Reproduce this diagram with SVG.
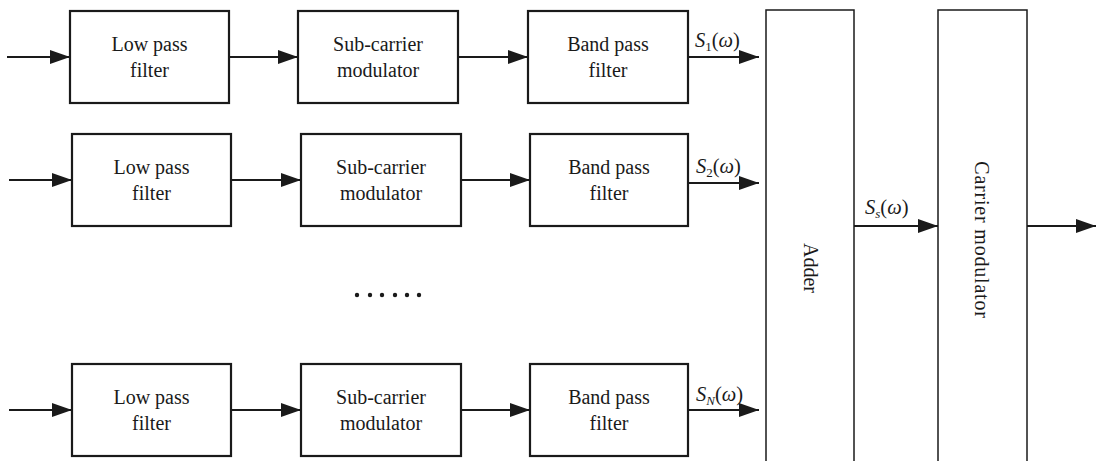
<svg xmlns="http://www.w3.org/2000/svg" width="1096" height="461" viewBox="0 0 1096 461">
<defs>
<style>
.box{fill:#fff;stroke:#1a1a1a;stroke-width:2.2}
.tall{fill:#fff;stroke:#1a1a1a;stroke-width:1.5}
.lbl{font-size:20px;fill:#1a1a1a;text-anchor:middle}
.sig{font-size:20.5px;fill:#1a1a1a}
.it{font-style:italic}
.sub{font-size:13px}
.wire{stroke:#1a1a1a;stroke-width:2.2;fill:none;marker-end:url(#ah)}
</style>
<marker id="ah" markerUnits="userSpaceOnUse" markerWidth="20" markerHeight="14" refX="20" refY="7" orient="auto">
<path d="M0,0 L20,7 L0,14 z" fill="#1a1a1a"/>
</marker>
</defs>
<rect width="1096" height="461" fill="#fff"/>

<g id="connectors">
<line class="wire" x1="7" y1="57" x2="70" y2="57"/>
<line class="wire" x1="229" y1="57" x2="298" y2="57"/>
<line class="wire" x1="458" y1="57" x2="528" y2="57"/>
<line class="wire" x1="688" y1="57" x2="759" y2="57"/>

<line class="wire" x1="9" y1="180" x2="72" y2="180"/>
<line class="wire" x1="231" y1="180" x2="301" y2="180"/>
<line class="wire" x1="461" y1="180" x2="530" y2="180"/>
<line class="wire" x1="688" y1="183" x2="759" y2="183"/>

<line class="wire" x1="9" y1="410" x2="72" y2="410"/>
<line class="wire" x1="231" y1="410" x2="301" y2="410"/>
<line class="wire" x1="461" y1="410" x2="530" y2="410"/>
<line class="wire" x1="688" y1="410" x2="759" y2="410"/>

<line class="wire" x1="854" y1="226" x2="938" y2="226"/>
<line class="wire" x1="1027" y1="226" x2="1096" y2="226"/>
</g>

<g font-family="'Liberation Serif', 'Times New Roman', 'DejaVu Serif', serif">
<g id="lpf1"><rect class="box" x="70" y="11" width="159" height="92"/><text class="lbl" x="149.5" y="51">Low pass</text><text class="lbl" x="149.5" y="77">filter</text></g>
<g id="scm1"><rect class="box" x="298" y="11" width="160" height="92"/><text class="lbl" x="378" y="51">Sub-carrier</text><text class="lbl" x="378" y="77">modulator</text></g>
<g id="bpf1"><rect class="box" x="528" y="11" width="160" height="92"/><text class="lbl" x="608" y="51">Band pass</text><text class="lbl" x="608" y="77">filter</text></g>

<g id="lpf2"><rect class="box" x="72" y="134" width="159" height="92"/><text class="lbl" x="151.5" y="174">Low pass</text><text class="lbl" x="151.5" y="200">filter</text></g>
<g id="scm2"><rect class="box" x="301" y="134" width="160" height="92"/><text class="lbl" x="381" y="174">Sub-carrier</text><text class="lbl" x="381" y="200">modulator</text></g>
<g id="bpf2"><rect class="box" x="530" y="134" width="158" height="92"/><text class="lbl" x="609" y="174">Band pass</text><text class="lbl" x="609" y="200">filter</text></g>

<g id="lpfN"><rect class="box" x="72" y="364" width="159" height="92"/><text class="lbl" x="151.5" y="404">Low pass</text><text class="lbl" x="151.5" y="430">filter</text></g>
<g id="scmN"><rect class="box" x="301" y="364" width="160" height="92"/><text class="lbl" x="381" y="404">Sub-carrier</text><text class="lbl" x="381" y="430">modulator</text></g>
<g id="bpfN"><rect class="box" x="530" y="364" width="158" height="92"/><text class="lbl" x="609" y="404">Band pass</text><text class="lbl" x="609" y="430">filter</text></g>

<g id="adder"><rect class="tall" x="766" y="10" width="88" height="470"/><text class="lbl" transform="translate(803.5,268) rotate(90)">Adder</text></g>
<g id="carrier"><rect class="tall" x="938" y="10" width="89" height="470"/><text class="lbl" font-size="22" letter-spacing="0.8" transform="translate(975,240) rotate(90)">Carrier modulator</text></g>

<g id="labels">
<text class="sig" x="695" y="47"><tspan class="it">S</tspan><tspan class="sub" dy="4">1</tspan><tspan dy="-4">(</tspan><tspan class="it">ω</tspan>)</text>
<text class="sig" x="696" y="173"><tspan class="it">S</tspan><tspan class="sub" dy="4">2</tspan><tspan dy="-4">(</tspan><tspan class="it">ω</tspan>)</text>
<text class="sig" x="696" y="401"><tspan class="it">S</tspan><tspan class="sub it" dy="4">N</tspan><tspan dy="-4">(</tspan><tspan class="it">ω</tspan>)</text>
<text class="sig" x="865" y="214"><tspan class="it">S</tspan><tspan class="sub it" dy="4">s</tspan><tspan dy="-4">(</tspan><tspan class="it">ω</tspan>)</text>
</g>
</g>

<g id="dots" fill="#1a1a1a">
<circle cx="357" cy="295" r="2.2"/><circle cx="370" cy="295" r="2.2"/><circle cx="382" cy="295" r="2.2"/><circle cx="395" cy="295" r="2.2"/><circle cx="407" cy="295" r="2.2"/><circle cx="419" cy="295" r="2.2"/>
</g>
</svg>
